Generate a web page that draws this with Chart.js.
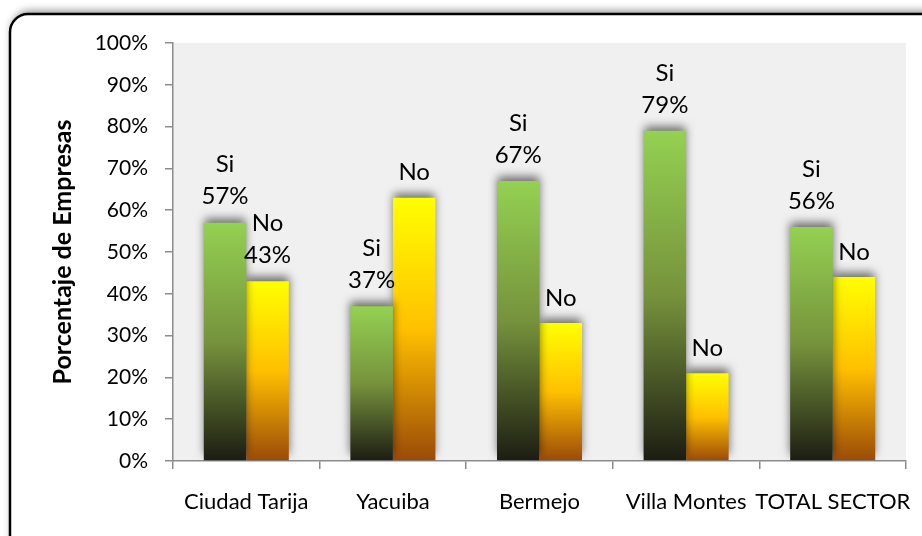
<!DOCTYPE html>
<html lang="es">
<head>
    <meta charset="UTF-8">
    <title>Porcentaje de Empresas</title>
    <script src="https://cdn.jsdelivr.net/npm/chart.js"></script>
    <style>
        html, body { margin: 0; padding: 0; background: #fff; }
        #wrap { width: 922px; height: 536px; }
    </style>
</head>
<body>
    <div id="wrap"><canvas id="grafico"></canvas></div>

    <script>
// datos del grafico
const categorias = ['Ciudad Tarija', 'Yacuiba', 'Bermejo', 'Villa Montes', 'TOTAL SECTOR'];
const valoresSi = [57, 37, 67, 79, 56];
const valoresNo = [43, 63, 33, 21, 44];
// en algunas etiquetas "No" solo aparece el nombre de la serie
const mostrarPctSi = [true, true, true, true, true];
const mostrarPctNo = [true, false, false, false, false];
const ticksY = [0, 10, 20, 30, 40, 50, 60, 70, 80, 90, 100];

const fuente = 'Lato, "Open Sans", sans-serif';

// degradado vertical de cada barra, desde su tope hasta la base
function degradado(context, paradas) {
    const chart = context.chart;
    const y = chart.scales.y;
    if (!y || !chart.chartArea) return paradas[0][1];
    const tope = y.getPixelForValue(context.raw);
    const base = y.getPixelForValue(0);
    const g = chart.ctx.createLinearGradient(0, tope, 0, base);
    paradas.forEach(p => g.addColorStop(p[0], p[1]));
    return g;
}
const paradasVerde = [[0, '#94d152'], [0.5, '#76923c'], [1, '#1c1c12']];
const paradasAmarillo = [[0, '#ffff00'], [0.5, '#ffc000'], [1, '#9a4a08']];

// marco redondeado y fondo gris del area de trazado
const fondo = {
    id: 'fondo',
    beforeDraw(chart) {
        const ctx = chart.ctx;
        const a = chart.chartArea;
        ctx.save();
        ctx.beginPath();
        ctx.roundRect(10, 14, 960, 560, 18);
        ctx.shadowColor = 'rgba(0,0,0,0.45)';
        ctx.shadowBlur = 9;
        ctx.shadowOffsetX = 2;
        ctx.shadowOffsetY = -3;
        ctx.fillStyle = '#ffffff';
        ctx.fill();
        ctx.shadowColor = 'transparent';
        ctx.lineWidth = 2.5;
        ctx.strokeStyle = '#000';
        ctx.stroke();
        ctx.fillStyle = '#f0f0f0';
        ctx.fillRect(a.left, a.top, a.right - a.left, a.bottom - a.top);
        ctx.restore();
    },
    beforeDatasetsDraw(chart) {
        const ctx = chart.ctx;
        ctx.save();
        ctx.shadowColor = 'rgba(0,0,0,0.55)';
        ctx.shadowBlur = 9;
        ctx.shadowOffsetY = -5;
    },
    afterDatasetsDraw(chart) {
        chart.ctx.restore();
        // etiquetas de datos: nombre de serie y porcentaje
        const ctx = chart.ctx;
        ctx.save();
        ctx.font = '24px ' + fuente;
        ctx.fillStyle = '#000';
        ctx.textAlign = 'center';
        ctx.textBaseline = 'middle';
        chart.data.datasets.forEach((ds, i) => {
            const meta = chart.getDatasetMeta(i);
            meta.data.forEach((el, j) => {
                if (ds.mostrarPct[j]) {
                    ctx.fillText(ds.label, el.x, el.y - 58);
                    ctx.fillText(ds.data[j] + '%', el.x, el.y - 26);
                } else {
                    ctx.fillText(ds.label, el.x, el.y - 25);
                }
            });
        });
        ctx.restore();
    }
};

new Chart(document.getElementById('grafico'), {
    type: 'bar',
    data: {
        labels: categorias,
        datasets: [{
            label: 'Si',
            data: valoresSi,
            mostrarPct: mostrarPctSi,
            backgroundColor: c => degradado(c, paradasVerde),
            categoryPercentage: 0.58,
            barPercentage: 1.0
        }, {
            label: 'No',
            data: valoresNo,
            mostrarPct: mostrarPctNo,
            backgroundColor: c => degradado(c, paradasAmarillo),
            categoryPercentage: 0.58,
            barPercentage: 1.0
        }]
    },
    options: {
        responsive: true,
        maintainAspectRatio: false,
        animation: false,
        layout: { padding: { left: 0, top: 43, right: 16, bottom: 0 } },
        plugins: {
            legend: { display: false },
            tooltip: { enabled: false }
        },
        scales: {
            x: {
                grid: { drawOnChartArea: false, offset: true, tickLength: 8, tickColor: '#8c8c8c', lineWidth: 1.5 },
                border: { color: '#8c8c8c', width: 1.5 },
                ticks: { color: '#000', font: { family: fuente, size: 22 }, padding: 20, maxRotation: 0, autoSkip: false },
                afterFit(s) { s.height = 75; s.paddingLeft = 0; s.paddingRight = 0; }
            },
            y: {
                min: 0,
                max: 100,
                afterBuildTicks(s) { s.ticks = ticksY.map(v => ({ value: v })); },
                grid: { drawOnChartArea: false, tickLength: 8, tickColor: '#8c8c8c', lineWidth: 1.5 },
                border: { color: '#8c8c8c', width: 1.5 },
                ticks: { color: '#000', font: { family: fuente, size: 21 }, padding: 17, callback: v => v + '%' },
                title: {
                    display: true,
                    text: 'Porcentaje de Empresas',
                    color: '#000',
                    font: { family: fuente, size: 25, weight: 'bold' },
                    padding: { top: 48, bottom: 0 }
                },
                afterFit(s) { s.width = 173; }
            }
        }
    },
    plugins: [fondo]
});
    </script>
</body>
</html>
